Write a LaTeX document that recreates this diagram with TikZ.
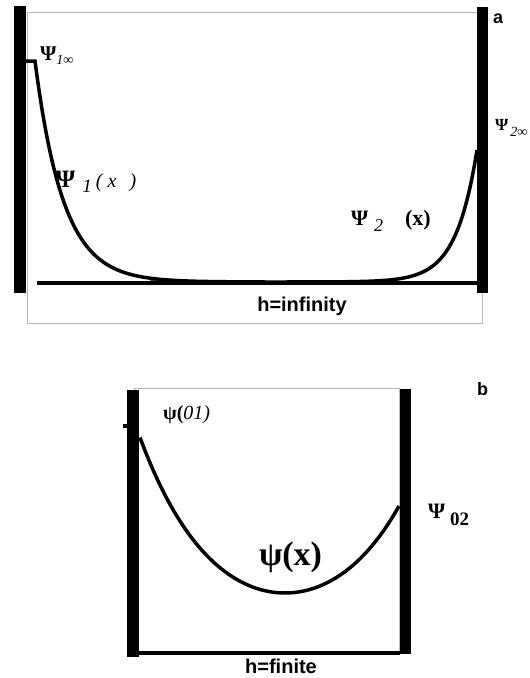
\documentclass[tikz,border=0pt]{standalone}
\usepackage{fontspec}
\setmainfont{Liberation Serif}
\setsansfont{Liberation Sans}
\newcommand\fsz[1]{\fontsize{#1}{#1}\selectfont}
\begin{document}
\begin{tikzpicture}[x=1pt,y=-1pt,
  frame/.style={draw=black!28, line width=1pt},
  wall/.style={fill=black},
  floorline/.style={line width=3.5pt},
  curve/.style={line width=3.5pt, line join=miter},
  lbl/.style={inner sep=0pt, outer sep=0pt, anchor=base west},
  tag/.style={inner sep=0pt, outer sep=0pt, anchor=base west, font=\sffamily\bfseries\fsz{18}}]
\useasboundingbox (0,0) rectangle (530,678);
% ---------- panel a ----------
\draw[frame] (27,12) rectangle (482,323);
\fill[wall] (14,6) rectangle (26,293);
\fill[wall] (477,7) rectangle (488,293);
\draw[floorline] (37,283) -- (477,283);
\draw[curve] (26,61) -- (35,61) -- plot[domain=35:265,samples=150] (\x,{282-221*exp(-(\x-35)/28.4)});
\draw[curve] plot[domain=150:477,samples=150] (\x,{282-132*exp((\x-477)/21)});
\node[lbl] (p1inf) at (40,60) {{\bfseries\fsz{21}Ψ}{\itshape\fsz{14}\raisebox{-4pt}{1∞}}};
\node[lbl] (p1x) at (56,187) {{\bfseries\fsz{25}Ψ}\hspace{7pt}{\itshape\fsz{19}\raisebox{-5pt}{1}}\hspace{4pt}{\itshape\fsz{20}(\hspace{5pt}x\hspace{13pt})}};
\node[lbl] (p2x) at (351,225) {{\bfseries\fsz{22}Ψ}\hspace{6pt}{\itshape\fsz{18}\raisebox{-6pt}{2}}\hspace{22pt}{\bfseries\fsz{22}(x)}};
\node[lbl] (p2inf) at (495,130) {{\bfseries\fsz{17}Ψ}\hspace{2pt}{\itshape\fsz{14}\raisebox{-6pt}{2∞}}};
\node[tag] (a) at (493,23) {a};
\node[inner sep=0pt, anchor=base, font=\sffamily\bfseries\fsz{20}] (hinf) at (302,311) {h=infinity};
% ---------- panel b ----------
\draw[frame] (134,388) rectangle (399,654);
\fill[wall] (127,390) rectangle (139,657);
\fill[wall] (400,389) rectangle (411,654);
\draw[floorline] (139,653) -- (400,653);
\fill[wall] (123,424) rectangle (127,428);
\draw[curve] plot[domain=140:399,samples=150] (\x,{593-72.5*(cosh((\x-285)/80)-1)});
\node[lbl] (p01) at (163,419) {{\bfseries\fsz{20}ψ(}{\itshape\fsz{20}01)}};
\node[lbl] (px) at (259,565) {\bfseries\fsz{34}ψ(x)};
\node[lbl] (p02) at (428,518) {{\bfseries\fsz{22}Ψ}\hspace{5pt}{\bfseries\fsz{19}\raisebox{-7pt}{02}}};
\node[tag] (b) at (477,395) {b};
\node[inner sep=0pt, anchor=base, font=\sffamily\bfseries\fsz{20}] (hfin) at (281,673) {h=finite};
\end{tikzpicture}
\end{document}
